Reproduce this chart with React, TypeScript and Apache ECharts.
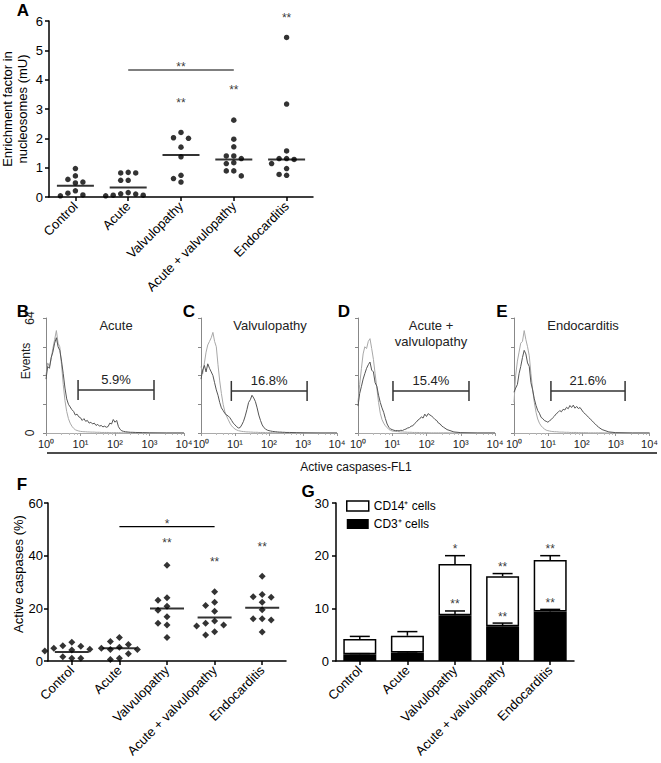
import React, { useEffect, useRef } from 'react';
import * as echarts from 'echarts';

const FONT = '"Liberation Sans", Arial, Helvetica, sans-serif';

const categories = ['Control', 'Acute', 'Valvulopathy', 'Acute + valvulopathy', 'Endocarditis'];

// ---------- Panel A: nucleosome enrichment factor (mU) ----------
const nucleosomeControl = [0.97, 0.72, 0.6, 0.51, 0.48, 0.21, 0.13, 0.07, 0.04];
const nucleosomeAcute = [0.84, 0.82, 0.82, 0.57, 0.57, 0.15, 0.11, 0.1, 0.06, 0.06, 0.04];
const nucleosomeValv = [2.2, 2.02, 2.0, 1.7, 1.37, 0.74, 0.63, 0.51];
const nucleosomeAcuteValv = [2.62, 1.97, 1.71, 1.4, 1.4, 1.31, 1.17, 1.14, 0.89, 0.89, 0.72];
const nucleosomeEndo = [5.44, 3.17, 1.57, 1.31, 1.31, 1.28, 1.14, 0.97, 0.77, 0.74];
const nucleosomeMedians = [0.38, 0.32, 1.43, 1.28, 1.28];
const nucleosomeStarY = [null, null, 3.31, 3.74, 6.2];
const nucleosomeStars = ['', '', '**', '**', '**'];
const nucleosomeBracket = { from: 1, to: 3, y: 4.33, starY: 4.53, star: '**' };

// ---------- Panel F: active caspases (%) ----------
const caspaseControl = [7.1, 5.8, 5.6, 4.8, 4.5, 4.2, 3.8, 1.6, 1.0, 1.0];
const caspaseAcute = [8.9, 7.4, 6.3, 5.2, 4.8, 4.4, 4.4, 2.8, 1.0, 0.6];
const caspaseValv = [36.4, 24.0, 23.1, 20.8, 19.3, 16.8, 14.3, 13.7, 8.9];
const caspaseAcuteValv = [26.3, 22.3, 21.1, 18.9, 15.2, 14.3, 13.7, 13.3, 11.1, 9.9];
const caspaseEndo = [32.2, 25.3, 24.4, 24.2, 22.3, 19.5, 16.0, 16.0, 15.6, 11.0];
const caspaseMedians = [3.4, 4.8, 19.9, 16.5, 20.2];
const caspaseStarY = [null, null, 46.0, 38.6, 44.4];
const caspaseStars = ['', '', '**', '**', '**'];
const caspaseBracket = { from: 1, to: 3, y: 51.0, starY: 53.2, star: '*' };

// ---------- Panel G: stacked bars ----------
const cd3Mean = [1.3, 1.6, 8.7, 6.6, 9.4];
const cd3Sem = [0.1, 0.12, 0.8, 0.6, 0.4];
const cd14Mean = [2.87, 3.2, 9.7, 9.5, 9.8];
const totalSem = [0.5, 0.78, 1.6, 0.5, 0.8];
const starsTotal = ['', '', '*', '**', '**'];
const starsCd3 = ['', '', '**', '**', '**'];

// ---------- Panels B-E: flow histograms ----------
const fl1Channels = [
  1.0, 1.12, 1.26, 1.41, 1.58, 1.78, 2.0, 2.24, 2.51, 2.82,
  3.16, 3.55, 3.98, 4.47, 5.01, 5.62, 6.31, 7.08, 7.94, 8.91,
  10.0, 11.2, 12.6, 14.1, 15.8, 17.8, 20.0, 22.4, 25.1, 28.2,
  31.6, 35.5, 39.8, 44.7, 50.1, 56.2, 63.1, 70.8, 79.4, 89.1,
  100, 112, 126, 141, 158, 178, 200, 224, 251, 282,
  316, 398, 631, 1000, 3162, 10000,
];
const histAcuteNeg = [
  32, 39, 37, 41, 47, 52, 57, 50, 48, 38,
  27, 18, 12, 8, 5.5, 3.8, 2.6, 1.8, 1.4, 1.1,
  0.9, 0.8, 0.7, 0.7, 0.6, 0.6, 0.5, 0.5, 0.5, 0.4,
  0.4, 0.4, 0.3, 0.3, 0.3, 0.3, 0.3, 0.2, 0.2, 0.2,
  0.2, 0.2, 0.2, 0.2, 0.1, 0.1, 0.1, 0.1, 0.1, 0.1,
  0.1, 0.1, 0.1, 0, 0, 0,
];
const histAcutePos = [
  30, 37, 36, 42, 45, 50, 53, 48, 46, 40,
  33, 25, 19, 16, 14.5, 13, 12, 10, 10.5, 9,
  8.5, 7, 8, 6.5, 7, 5.5, 6, 5, 5.5, 4.2,
  4.8, 3.8, 4.2, 3.4, 3.8, 3.2, 3.6, 5.5, 5, 7.5,
  6, 7, 3.5, 2, 1.2, 0.9, 0.7, 0.6, 0.5, 0.4,
  0.4, 0.3, 0.2, 0.1, 0, 0,
];
const histValvNeg = [
  37, 33, 39, 45, 49, 51, 53, 56, 51, 48,
  38, 29, 22, 16, 12, 9.5, 7.5, 5.5, 4, 3,
  2.2, 1.7, 1.3, 1.1, 0.9, 0.8, 0.7, 0.6, 0.6, 0.5,
  0.5, 0.4, 0.4, 0.4, 0.3, 0.3, 0.3, 0.3, 0.2, 0.2,
  0.2, 0.2, 0.2, 0.1, 0.1, 0.1, 0.1, 0.1, 0.1, 0.1,
  0.1, 0.1, 0, 0, 0, 0,
];
const histValvPos = [
  30, 35, 37.6, 34, 38.5, 36, 34, 32, 28, 24,
  21, 17, 14, 12.5, 11, 10, 9.5, 8.5, 7, 5.5,
  4.5, 3.5, 2.8, 3, 4.5, 6.5, 9.5, 13, 17, 18.5,
  21, 19.5, 17.5, 14, 10, 7, 4.5, 3, 2.2, 1.6,
  1.3, 1.1, 0.9, 0.8, 0.7, 0.6, 0.5, 0.5, 0.4, 0.4,
  0.3, 0.3, 0.2, 0.1, 0, 0,
];
const histBothNeg = [
  17, 27, 36, 44, 48, 47, 51, 52.5, 47, 41,
  33, 25, 17, 11, 7.5, 5.5, 4, 3, 2, 1.5,
  1.1, 1.0, 0.9, 0.8, 0.7, 0.6, 0.6, 0.5, 0.5, 0.4,
  0.4, 0.4, 0.3, 0.3, 0.3, 0.3, 0.2, 0.2, 0.2, 0.2,
  0.2, 0.2, 0.1, 0.1, 0.1, 0.1, 0.1, 0.1, 0.1, 0.1,
  0.1, 0.1, 0, 0, 0, 0,
];
const histBothPos = [
  15, 22, 26, 30, 33, 36, 38, 39.5, 35, 34,
  28, 26, 21, 17, 14, 11.5, 8, 5, 3.2, 2.2,
  1.9, 1.5, 1.3, 1.4, 1.2, 1.5, 1.4, 1.9, 2.2, 2.8,
  3, 3.8, 4, 5.2, 6, 7.2, 7.8, 9, 8.3, 10.5,
  9.2, 10.8, 10, 9.5, 8.5, 7.5, 6.9, 5.5, 5, 3.8,
  3.2, 1.9, 0.6, 0.2, 0, 0,
];
const histEndoNeg = [
  17, 32, 40, 45, 50, 51, 57, 52, 48, 43,
  33, 24, 17, 11.5, 7.8, 5.5, 4, 3, 2.2, 1.6,
  1.3, 1.1, 0.9, 0.8, 0.7, 0.7, 0.6, 0.5, 0.5, 0.5,
  0.4, 0.4, 0.4, 0.3, 0.3, 0.3, 0.3, 0.3, 0.2, 0.2,
  0.2, 0.2, 0.2, 0.2, 0.1, 0.1, 0.1, 0.1, 0.1, 0.1,
  0.1, 0.1, 0, 0, 0, 0,
];
const histEndoPos = [
  22.7, 25, 27, 33, 37, 42, 46, 44, 39, 37,
  28, 24, 19, 15.3, 12.5, 11, 8.7, 8, 6.9, 6.5,
  6, 6.8, 7.5, 8.6, 9.5, 10.8, 11.5, 12.5, 11.8, 13.2,
  12.8, 14.3, 13.5, 15.3, 14.2, 15.5, 13.8, 14.8, 13.6, 14.2,
  12.8, 11.5, 10.6, 9.8, 8.7, 7.8, 6.9, 5.8, 5, 4,
  3.2, 1.9, 0.6, 0.2, 0, 0,
];
const histTitles = ['Acute', 'Valvulopathy', 'Acute +\nvalvulopathy', 'Endocarditis'];
const histNeg = [histAcuteNeg, histValvNeg, histBothNeg, histEndoNeg];
const histPos = [histAcutePos, histValvPos, histBothPos, histEndoPos];
const gateLow = [8.5, 7.8, 10.5, 12.3];
const gateHigh = [1350, 1320, 1740, 1900];
const gateLevel = [24, 23.4, 23.4, 23.4];
const gateLabels = ['5.9%', '16.8%', '15.4%', '21.6%'];
const histYTicks = [0, 64];
const superscripts = ['⁰', '¹', '²', '³', '⁴'];

// ---------- layout ----------
const gridA = { left: 49, top: 21, width: 264, height: 176 };
const histLefts = [46, 201, 358, 514];
const histWidths = [138, 136, 137, 137];
const histTop = 318;
const histHeight = 115;
const gridF = { left: 48, top: 503, width: 238, height: 158 };
const gridG = { left: 336, top: 503, width: 238, height: 158 };

function swarm(groups: number[][], pxPerUnit: number, step: number, minDist: number) {
  const out: any[] = [];
  groups.forEach((vals, ci) => {
    const order = vals.map((_, i) => i).sort((a, b) => vals[b] - vals[a]);
    const placed: { dx: number; y: number }[] = [];
    const cands = [0, -step, step, -2 * step, 2 * step, -3 * step, 3 * step];
    for (const i of order) {
      const y = vals[i] * pxPerUnit;
      let dx = 0;
      for (const c of cands) {
        if (placed.every((p) => Math.hypot(p.dx - c, p.y - y) >= minDist)) {
          dx = c;
          break;
        }
      }
      placed.push({ dx, y });
      out.push({ value: [ci, vals[i]], symbolOffset: [dx, 0] });
    }
  });
  return out;
}

const axisBlack = {
  axisLine: { show: true, lineStyle: { color: '#000', width: 1.5 } },
  axisTick: { show: true, length: 4, lineStyle: { color: '#000', width: 1.5 } },
  splitLine: { show: false },
};

function catAxis(gridIndex: number) {
  return {
    type: 'category',
    gridIndex,
    data: categories,
    ...axisBlack,
    axisTick: { ...axisBlack.axisTick, alignWithLabel: true },
    axisLabel: { rotate: 45, interval: 0, fontSize: 13, color: '#000', fontFamily: FONT, margin: 7 },
  };
}

function valAxis(gridIndex: number, max: number, interval: number, margin: number) {
  return {
    type: 'value',
    gridIndex,
    min: 0,
    max,
    interval,
    ...axisBlack,
    axisLabel: { fontSize: 13, color: '#000', fontFamily: FONT, margin },
  };
}

function starSeries(xi: number, items: { x: number; y: number; text: string }[], offsetY: number) {
  return {
    type: 'scatter',
    xAxisIndex: xi,
    yAxisIndex: xi,
    symbolSize: 1,
    itemStyle: { color: 'rgba(0,0,0,0)' },
    clip: false,
    silent: true,
    z: 5,
    data: items.map((it) => ({ name: it.text, value: [it.x, it.y] })),
    label: {
      show: true,
      position: 'inside',
      offset: [0, offsetY],
      formatter: '{b}',
      fontSize: 12,
      color: '#000',
      fontFamily: FONT,
    },
  };
}

function errorRender(params: any, api: any) {
  const x = api.value(0);
  const top = api.value(1);
  const err = api.value(2);
  const p0 = api.coord([x, top]);
  const p1 = api.coord([x, top + err]);
  const half = 10;
  const st = { stroke: '#000', lineWidth: 1.5 };
  return {
    type: 'group',
    children: [
      { type: 'line', shape: { x1: p0[0], y1: p0[1], x2: p1[0], y2: p1[1] }, style: st },
      { type: 'line', shape: { x1: p1[0] - half, y1: p1[1], x2: p1[0] + half, y2: p1[1] }, style: st },
    ],
  };
}

function makeGateRender(k: number) {
  return (params: any, api: any) => {
    const lo = api.coord([api.value(0), api.value(2)]);
    const hi = api.coord([api.value(1), api.value(2)]);
    const h = 10;
    const st = { stroke: '#333', lineWidth: 1.5 };
    return {
      type: 'group',
      children: [
        { type: 'line', shape: { x1: lo[0], y1: lo[1], x2: hi[0], y2: hi[1] }, style: st },
        { type: 'line', shape: { x1: lo[0], y1: lo[1] - h, x2: lo[0], y2: lo[1] + h }, style: st },
        { type: 'line', shape: { x1: hi[0], y1: hi[1] - h, x2: hi[0], y2: hi[1] + h }, style: st },
        {
          type: 'text',
          x: (lo[0] + hi[0]) / 2,
          y: lo[1] - 4,
          style: {
            text: gateLabels[k],
            fill: '#222',
            font: `13px ${FONT}`,
            align: 'center',
            verticalAlign: 'bottom',
          },
        },
      ],
    };
  };
}

function gText(text: string, x: number, y: number, size: number, opts: any = {}) {
  return {
    type: 'text',
    x,
    y,
    rotation: opts.rotation || 0,
    silent: true,
    style: {
      text,
      fill: opts.fill || '#000',
      font: `${opts.bold ? 'bold ' : ''}${size}px ${FONT}`,
      textAlign: 'center',
      textVerticalAlign: 'middle',
      align: 'center',
      verticalAlign: 'middle',
      lineHeight: opts.lineHeight || size + 2,
    },
  };
}

function buildOption() {
  const grids: any[] = [
    gridA,
    ...histLefts.map((l, k) => ({ left: l, top: histTop, width: histWidths[k], height: histHeight })),
    gridF,
    gridG,
  ];

  const histX = histLefts.map((_, k) => ({
    type: 'log',
    gridIndex: k + 1,
    logBase: 10,
    min: 1,
    max: 10000,
    axisLine: { show: true, lineStyle: { color: '#aaa', width: 1 } },
    axisTick: { show: true, length: 3, lineStyle: { color: '#999' } },
    minorTick: { show: true, splitNumber: 5, length: 2, lineStyle: { color: '#bbb' } },
    splitLine: { show: false },
    axisLabel: {
      fontSize: 11,
      color: '#222',
      fontFamily: FONT,
      margin: 5,
      formatter: (v: number) => '10' + superscripts[Math.round(Math.log10(v))],
    },
  }));
  const histY = histLefts.map((_, k) => ({
    type: 'value',
    gridIndex: k + 1,
    min: 0,
    max: 64,
    interval: 16,
    axisLine: { show: true, lineStyle: { color: '#888', width: 1 } },
    axisTick: { show: true, length: 3, lineStyle: { color: '#888' } },
    splitLine: { show: false },
    axisLabel:
      k === 0
        ? {
            show: true,
            rotate: 90,
            fontSize: 12,
            color: '#222',
            fontFamily: FONT,
            margin: 10,
            formatter: (v: number) => (histYTicks.includes(v) ? String(v) : ''),
          }
        : { show: false },
  }));

  const xAxis = [catAxis(0), ...histX, catAxis(5), catAxis(6)];
  const yAxis = [valAxis(0, 6, 1, 6), ...histY, valAxis(5, 60, 20, 5), valAxis(6, 30, 10, 7)];

  const series: any[] = [];

  // Panel A
  series.push({
    type: 'scatter',
    xAxisIndex: 0,
    yAxisIndex: 0,
    symbol: 'circle',
    symbolSize: 5.5,
    itemStyle: { color: '#000' },
    clip: false,
    data: swarm(
      [nucleosomeControl, nucleosomeAcute, nucleosomeValv, nucleosomeAcuteValv, nucleosomeEndo],
      gridA.height / 6,
      7.5,
      6.3
    ),
  });
  series.push({
    type: 'scatter',
    xAxisIndex: 0,
    yAxisIndex: 0,
    symbol: 'rect',
    symbolSize: [37, 2],
    itemStyle: { color: '#000' },
    data: nucleosomeMedians.map((m, i) => [i, m]),
  });
  series.push({
    type: 'line',
    xAxisIndex: 0,
    yAxisIndex: 0,
    symbol: 'none',
    lineStyle: { color: '#000', width: 1.2 },
    data: [
      [nucleosomeBracket.from, nucleosomeBracket.y],
      [nucleosomeBracket.to, nucleosomeBracket.y],
    ],
  });
  series.push(
    starSeries(
      0,
      [
        ...nucleosomeStarY
          .map((y, i) => (y == null ? null : { x: i, y, text: nucleosomeStars[i] }))
          .filter(Boolean) as any[],
        { x: (nucleosomeBracket.from + nucleosomeBracket.to) / 2, y: nucleosomeBracket.starY, text: nucleosomeBracket.star },
      ],
      3
    )
  );

  // Panels B-E
  histLefts.forEach((_, k) => {
    series.push({
      type: 'line',
      xAxisIndex: k + 1,
      yAxisIndex: k + 1,
      showSymbol: false,
      symbol: 'none',
      lineStyle: { color: '#a8a8a8', width: 1 },
      data: fl1Channels.map((c, i) => [c, histNeg[k][i]]),
    });
    series.push({
      type: 'line',
      xAxisIndex: k + 1,
      yAxisIndex: k + 1,
      showSymbol: false,
      symbol: 'none',
      lineStyle: { color: '#555', width: 1 },
      data: fl1Channels.map((c, i) => [c, histPos[k][i]]),
    });
    series.push({
      type: 'custom',
      xAxisIndex: k + 1,
      yAxisIndex: k + 1,
      renderItem: makeGateRender(k),
      encode: { x: [0, 1], y: 2 },
      data: [[gateLow[k], gateHigh[k], gateLevel[k]]],
      z: 4,
    });
  });

  // Panel F
  series.push({
    type: 'scatter',
    xAxisIndex: 5,
    yAxisIndex: 5,
    symbol: 'diamond',
    symbolSize: 7,
    itemStyle: { color: '#000' },
    clip: false,
    data: swarm(
      [caspaseControl, caspaseAcute, caspaseValv, caspaseAcuteValv, caspaseEndo],
      gridF.height / 60,
      9,
      7
    ),
  });
  series.push({
    type: 'scatter',
    xAxisIndex: 5,
    yAxisIndex: 5,
    symbol: 'rect',
    symbolSize: [34, 2],
    itemStyle: { color: '#000' },
    data: caspaseMedians.map((m, i) => [i, m]),
  });
  series.push({
    type: 'line',
    xAxisIndex: 5,
    yAxisIndex: 5,
    symbol: 'none',
    lineStyle: { color: '#000', width: 1.2 },
    data: [
      [caspaseBracket.from, caspaseBracket.y],
      [caspaseBracket.to, caspaseBracket.y],
    ],
  });
  series.push(
    starSeries(
      5,
      [
        ...caspaseStarY
          .map((y, i) => (y == null ? null : { x: i, y, text: caspaseStars[i] }))
          .filter(Boolean) as any[],
        { x: (caspaseBracket.from + caspaseBracket.to) / 2, y: caspaseBracket.starY, text: caspaseBracket.star },
      ],
      3
    )
  );

  // Panel G
  const totals = cd3Mean.map((v, i) => v + cd14Mean[i]);
  series.push({
    name: 'CD3⁺ cells',
    type: 'bar',
    xAxisIndex: 6,
    yAxisIndex: 6,
    stack: 'cells',
    barWidth: 33,
    itemStyle: { color: '#000' },
    data: cd3Mean,
  });
  series.push({
    name: 'CD14⁺ cells',
    type: 'bar',
    xAxisIndex: 6,
    yAxisIndex: 6,
    stack: 'cells',
    barWidth: 33,
    itemStyle: { color: '#fff', borderColor: '#000', borderWidth: 1.5 },
    data: cd14Mean,
  });
  series.push({
    type: 'custom',
    xAxisIndex: 6,
    yAxisIndex: 6,
    renderItem: errorRender,
    encode: { x: 0, y: 1 },
    z: 4,
    data: totals.map((t, i) => [i, t, totalSem[i]]),
  });
  series.push({
    type: 'custom',
    xAxisIndex: 6,
    yAxisIndex: 6,
    renderItem: errorRender,
    encode: { x: 0, y: 1 },
    z: 4,
    data: cd3Mean.map((t, i) => [i, t, cd3Sem[i]]),
  });
  series.push(
    starSeries(
      6,
      [
        ...starsTotal
          .map((s, i) => (s ? { x: i, y: totals[i] + totalSem[i], text: s } : null))
          .filter(Boolean) as any[],
      ],
      -6.5
    )
  );
  series.push(
    starSeries(
      6,
      [
        ...starsCd3
          .map((s, i) => (s ? { x: i, y: cd3Mean[i] + cd3Sem[i], text: s } : null))
          .filter(Boolean) as any[],
      ],
      -6.5
    )
  );

  const graphic: any[] = [
    gText('A', 23, 10, 17, { bold: true }),
    gText('B', 23, 311, 17, { bold: true }),
    gText('C', 189, 311, 17, { bold: true }),
    gText('D', 344, 311, 17, { bold: true }),
    gText('E', 502, 311, 17, { bold: true }),
    gText('F', 22, 484, 17, { bold: true }),
    gText('G', 308, 491, 17, { bold: true }),
    gText('Enrichment factor in\nnucleosomes (mU)', 15, 109, 13, { rotation: Math.PI / 2, lineHeight: 15 }),
    gText('Active caspases (%)', 18, 574, 13, { rotation: Math.PI / 2 }),
    gText('Events', 26, 361, 12, { rotation: Math.PI / 2, fill: '#222' }),
    gText(histTitles[0], 116, 325, 13, { fill: '#222' }),
    gText(histTitles[1], 270, 325, 13, { fill: '#222' }),
    gText(histTitles[2], 431, 333, 13, { fill: '#222', lineHeight: 16 }),
    gText(histTitles[3], 583, 325, 13, { fill: '#222' }),
    {
      type: 'line',
      silent: true,
      shape: { x1: 47, y1: 453, x2: 657, y2: 453 },
      style: { stroke: '#111', lineWidth: 1.5 },
    },
    gText('Active caspases-FL1', 356, 467, 12, { fill: '#111' }),
  ];

  return {
    animation: false,
    backgroundColor: '#fff',
    textStyle: { fontFamily: FONT },
    grid: grids,
    xAxis,
    yAxis,
    series,
    graphic,
    legend: {
      left: 346,
      top: 500,
      orient: 'vertical',
      itemWidth: 22,
      itemHeight: 10,
      itemGap: 6,
      padding: 0,
      selectedMode: false,
      icon: 'rect',
      textStyle: { fontSize: 12, color: '#000', fontFamily: FONT },
      data: [
        { name: 'CD14⁺ cells', itemStyle: { color: '#fff', borderColor: '#000', borderWidth: 1.5 } },
        { name: 'CD3⁺ cells', itemStyle: { color: '#000' } },
      ],
    },
  };
}

export default function App() {
  const ref = useRef<HTMLDivElement>(null);
  useEffect(() => {
    const chart = echarts.init(ref.current!, undefined, { renderer: 'svg' });
    chart.setOption(buildOption() as any);
    return () => chart.dispose();
  }, []);
  return (
    <div
      ref={ref}
      style={{ position: 'absolute', left: 0, top: 0, width: 661, height: 763, background: '#fff' }}
    />
  );
}
